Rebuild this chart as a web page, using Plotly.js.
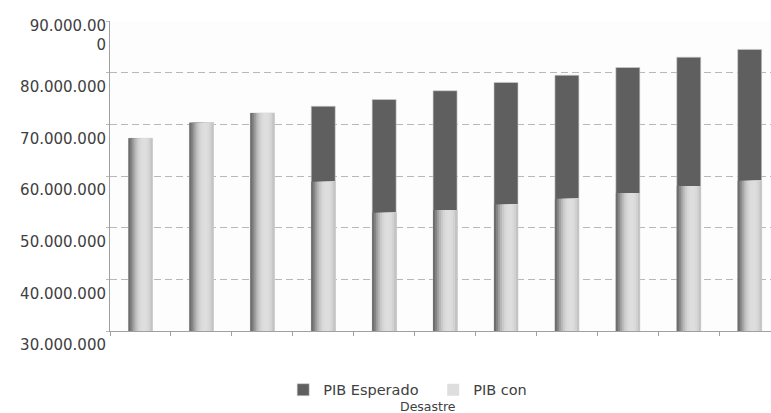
<!DOCTYPE html>
<html>
<head>
<meta charset="utf-8">
<script src="https://cdn.plot.ly/plotly-3.0.1.min.js"></script>
<style>html,body{margin:0;padding:0;background:#fff;}</style>
</head>
<body>
<div id="chart" style="width:771px;height:413px;"></div>
<script>
// Data
const periods = ["1","2","3","4","5","6","7","8","9","10","11"];
const pibEsperado = [67300000, 70300000, 72200000, 73500000, 74800000, 76500000, 78100000, 79500000, 81000000, 83000000, 84500000];
const pibConDesastre = [67300000, 70300000, 72200000, 58900000, 52900000, 53400000, 54500000, 55600000, 56700000, 58050000, 59100000];
const yTickVals = [30000000, 40000000, 50000000, 60000000, 70000000, 80000000, 90000000];
const yTickText = ["30.000.000", "40.000.000", "50.000.000", "60.000.000", "70.000.000", "80.000.000", "90.000.00<br>0"];
const legendNames = ["PIB Esperado", "PIB con"];
const legendExtra = "Desastre";

// Styling: cylinder-like shading drawn as overlapping strips of the same bar
const barWidth = 0.394;
const stripColors = ["#6e6e6e","#858585","#a0a0a0","#b8b8b8","#cacaca","#d6d6d6","#dcdcdc","#dedede","#dedede","#dadada","#d2d2d2","#c4c4c4"];
const sw = barWidth / stripColors.length;

const traces = [{
  type: 'bar', x: periods, y: pibEsperado, name: legendNames[0],
  width: barWidth,
  marker: {color: '#5f5f5f', line: {color: '#d0d0d0', width: 0.6}},
  hoverinfo: 'skip'
}];
stripColors.forEach((c, i) => {
  traces.push({
    type: 'bar', x: periods, y: pibConDesastre,
    name: legendNames[1],
    width: barWidth - i*sw, offset: -barWidth/2 + i*sw,
    marker: {color: c, line: {width: 0}},
    showlegend: i === 7, legendgroup: 'con',
    hoverinfo: 'skip'
  });
});

const layout = {
  width: 771, height: 413,
  margin: {l: 110, r: 0, t: 21, b: 82, autoexpand: false},
  paper_bgcolor: '#ffffff', plot_bgcolor: '#fdfdfd',
  barmode: 'overlay',
  showlegend: true,
  font: {family: 'DejaVu Sans, sans-serif', color: '#404040'},
  xaxis: {
    type: 'category', range: [-0.5, 10.35],
    showticklabels: false, showgrid: false, zeroline: false,
    showline: true, linecolor: '#a0a0a0', linewidth: 1,
    ticks: 'outside', tickson: 'boundaries', ticklen: 4, tickcolor: '#a0a0a0'
  },
  yaxis: {
    range: [30000000, 90000000],
    tickvals: yTickVals, ticktext: yTickText,
    tickfont: {family: 'DejaVu Sans, sans-serif', size: 15, color: '#404040'},
    ticklabelshift: 14, ticklabelstandoff: -3,
    showgrid: true, gridcolor: '#b8b8b8', gridwidth: 1, griddash: '7px,4px',
    zeroline: false,
    showline: true, linecolor: '#a0a0a0', linewidth: 1,
    ticks: 'outside', ticklen: 3, tickcolor: '#b8b8b8'
  },
  legend: {
    orientation: 'h', x: 0.262, xanchor: 'left', y: -0.138, yanchor: 'top',
    font: {family: 'DejaVu Sans, sans-serif', size: 14.5, color: '#404040'},
    bgcolor: 'rgba(0,0,0,0)', traceorder: 'normal',
    entrywidth: 105
  },
  annotations: [{
    text: legendExtra, xref: 'paper', yref: 'paper', x: 0.481, y: 0,
    yshift: -75, xanchor: 'center', yanchor: 'middle', showarrow: false,
    font: {family: 'DejaVu Sans, sans-serif', size: 12.5, color: '#404040'}
  }]
};

Plotly.newPlot('chart', traces, layout, {staticPlot: true, displayModeBar: false});
</script>
</body>
</html>
